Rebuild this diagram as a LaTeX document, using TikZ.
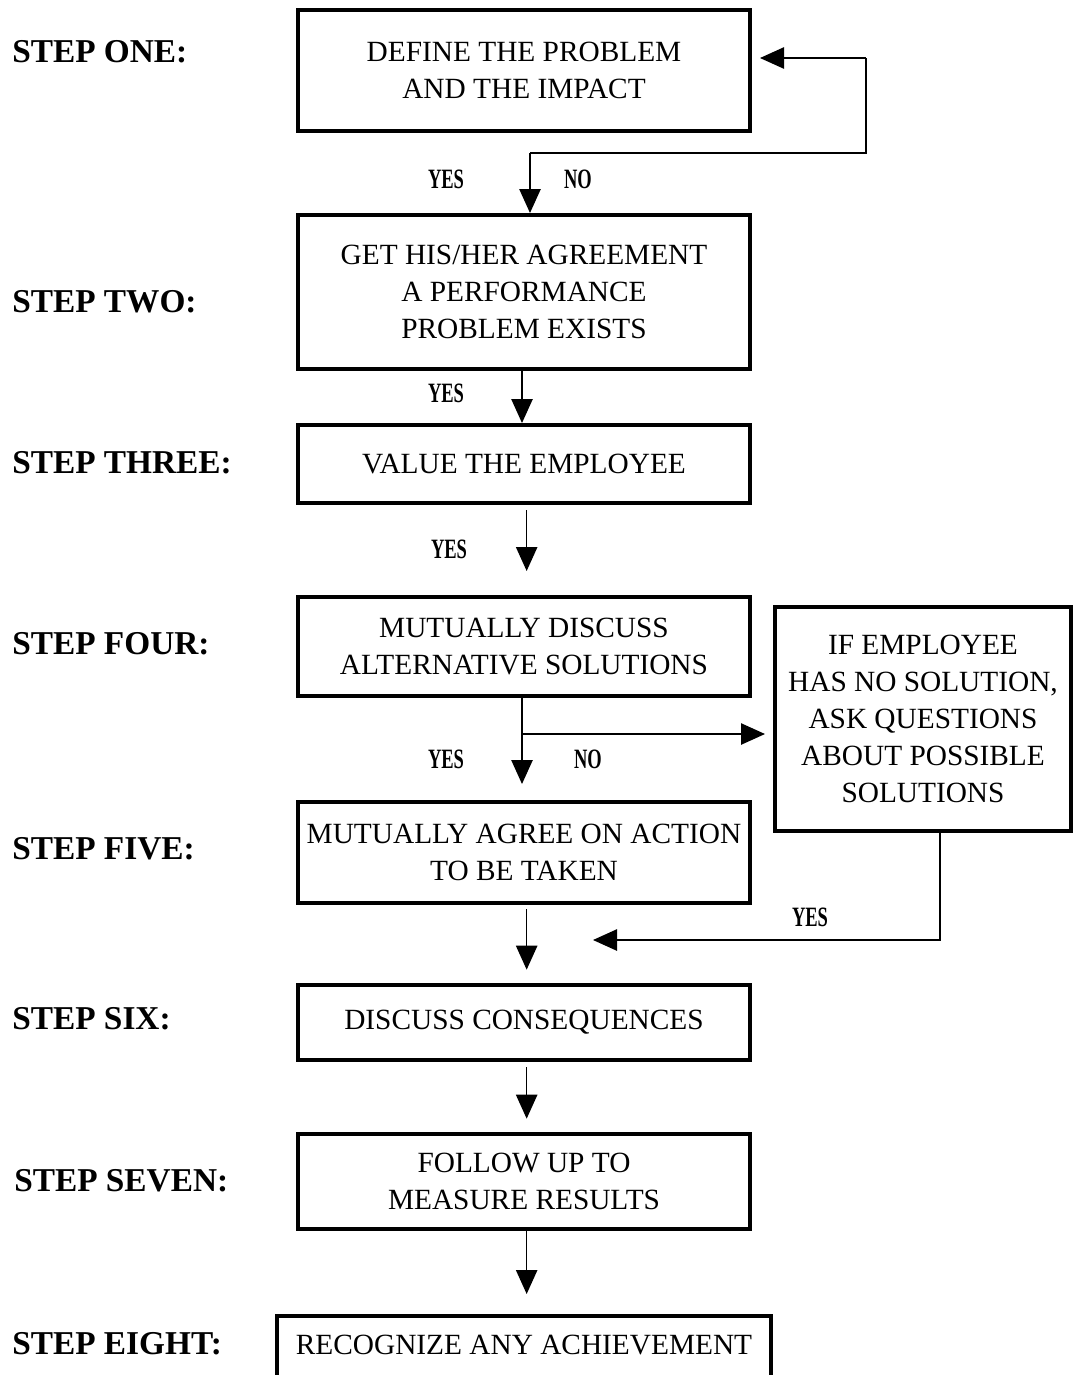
\documentclass[tikz,border=0pt]{standalone}
\usepackage{fontspec}
\setmainfont{Liberation Serif}
\newfontfamily\yesfont[FakeStretch=0.66]{Liberation Serif}
\usetikzlibrary{arrows.meta}
\begin{document}
\begin{tikzpicture}[x=0.75pt,y=-0.75pt,
  box/.style={draw, line width=3pt, inner sep=0pt, align=center,
    font=\fontsize{22}{27.75}\selectfont},
  steplabel/.style={anchor=west, inner sep=0pt,
    font=\fontsize{25}{30}\selectfont\bfseries},
  yn/.style={inner sep=0pt, font=\fontsize{21}{25}\yesfont\bfseries},
  conn/.style={line width=1.1pt},
  arr/.style={conn, -{Triangle[width=16pt,length=18pt]}}]
\useasboundingbox (0,0) rectangle (1075,1375);

% boxes
\node[box, minimum width=339pt, minimum height=90.75pt] (b1) at (524,70.5)
  {DEFINE THE PROBLEM\\AND THE IMPACT};
\node[box, minimum width=339pt, minimum height=115.5pt] (b2) at (524,292)
  {GET HIS/HER AGREEMENT\\A PERFORMANCE\\PROBLEM EXISTS};
\node[box, minimum width=339pt, minimum height=58.5pt] (b3) at (524,464)
  {VALUE THE EMPLOYEE};
\node[box, minimum width=339pt, minimum height=74.25pt] (b4) at (524,646.5)
  {MUTUALLY DISCUSS\\ALTERNATIVE SOLUTIONS};
\node[box, minimum width=222pt, minimum height=168pt] (b5) at (923,719)
  {IF EMPLOYEE\\HAS NO SOLUTION,\\ASK QUESTIONS\\ABOUT POSSIBLE\\SOLUTIONS};
\node[box, minimum width=339pt, minimum height=75.75pt] (b6) at (524,852.5)
  {MUTUALLY AGREE ON ACTION\\TO BE TAKEN};
\node[box, minimum width=339pt, minimum height=56.25pt] (b7) at (524,1022.5)
  {DISCUSS CONSEQUENCES};
\node[box, minimum width=339pt, minimum height=71.25pt] (b8) at (524,1181.5)
  {FOLLOW UP TO\\MEASURE RESULTS};
\node[box, anchor=north, minimum width=370.5pt, text height=28.5pt, text depth=48pt] (b9) at (524,1314)
  {RECOGNIZE ANY ACHIEVEMENT};

% step labels
\node[steplabel] (s1) at (12,52) {STEP ONE:};
\node[steplabel] (s2) at (12,302) {STEP TWO:};
\node[steplabel] (s3) at (12,463) {STEP THREE:};
\node[steplabel] (s4) at (12,644) {STEP FOUR:};
\node[steplabel] (s5) at (12,849) {STEP FIVE:};
\node[steplabel] (s6) at (12,1019) {STEP SIX:};
\node[steplabel] (s7) at (14,1181) {STEP SEVEN:};
\node[steplabel] (s8) at (12,1344) {STEP EIGHT:};

% coordinates
\coordinate (j1) at (530,153);
\coordinate (fb) at (866,58);
\coordinate (j4) at (522,734);
\coordinate (c5) at (940,940);
\coordinate (t5) at (593,940);

% connectors
\draw[conn] (j1) -| (fb);
\draw[arr] (fb) -- ([xshift=6pt]b1.east |- fb);
\draw[arr] (j1) -- (j1 |- b2.north);
\draw[arr] ([xshift=-1.5pt]b2.south) -- ([xshift=-1.5pt]b3.north);
\draw[arr, shorten >=18pt] ([xshift=2pt,yshift=-4pt]b3.south) -- ([xshift=2pt]b4.north);
\draw[arr, shorten >=12pt] ([xshift=-1.5pt]b4.south) -- ([xshift=-1.5pt]b6.north);
\draw[arr, shorten >=6pt] (j4) -- (j4 -| b5.west);
\draw[arr] (b5.south -| c5) |- (t5);
\draw[arr, shorten >=10pt] ([xshift=2pt,yshift=-3pt]b6.south) -- ([xshift=2pt]b7.north);
\draw[arr, shorten >=10pt] ([xshift=2pt,yshift=-4pt]b7.south) -- ([xshift=2pt]b8.north);
\draw[arr, shorten >=15pt] ([xshift=2pt]b8.south) -- ([xshift=2pt]b9.north);

% yes/no labels
\node[yn] (y1) at (446,179) {YES};
\node[yn] (n1) at (578,179) {NO};
\node[yn] (y2) at (446,393) {YES};
\node[yn] (y3) at (449,549) {YES};
\node[yn] (y4) at (446,759) {YES};
\node[yn] (n4) at (588,759) {NO};
\node[yn] (y5) at (810,917) {YES};
\end{tikzpicture}
\end{document}
